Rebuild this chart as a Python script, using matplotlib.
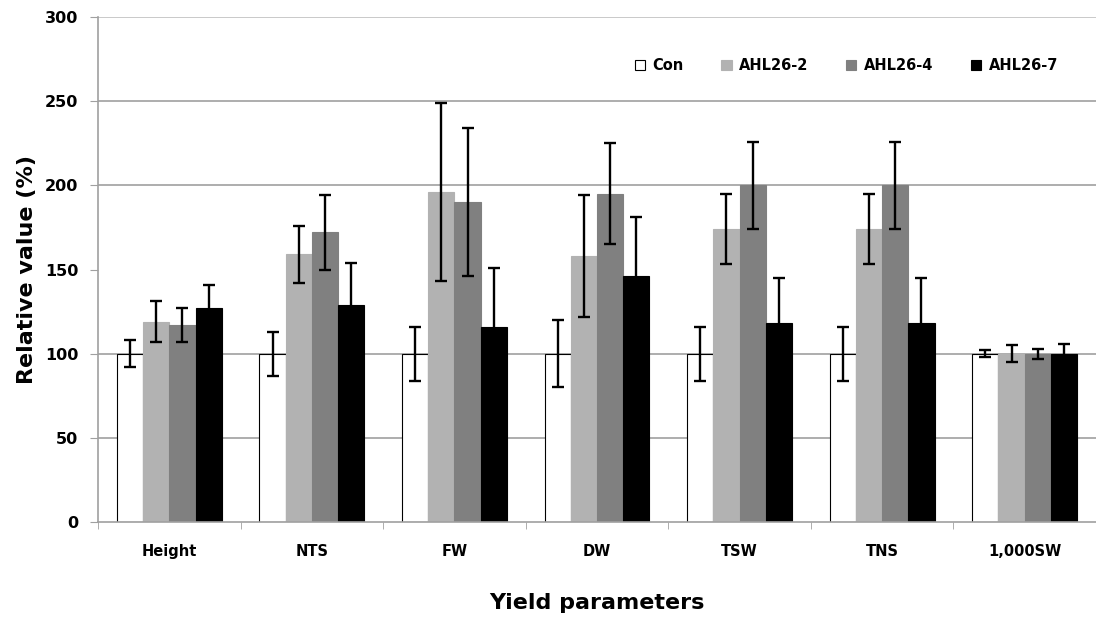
import matplotlib.pyplot as plt
import numpy as np

categories = ["Height", "NTS", "FW", "DW", "TSW", "TNS", "1,000SW"]
series = ["Con", "AHL26-2", "AHL26-4", "AHL26-7"]

con = [100, 100, 100, 100, 100, 100, 100]
con_err = [8, 13, 16, 20, 16, 16, 2]
ahl2 = [119, 159, 196, 158, 174, 174, 100]
ahl2_err = [12, 17, 53, 36, 21, 21, 5]
ahl4 = [117, 172, 190, 195, 200, 200, 100]
ahl4_err = [10, 22, 44, 30, 26, 26, 3]
ahl7 = [127, 129, 116, 146, 118, 118, 100]
ahl7_err = [14, 25, 35, 35, 27, 27, 6]

values = [con, ahl2, ahl4, ahl7]
errors = [con_err, ahl2_err, ahl4_err, ahl7_err]
colors = ["white", "#b2b2b2", "#808080", "black"]

fig = plt.figure(figsize=(10.96, 6.23), dpi=100)
ax = fig.add_axes([98 / 1096, 101 / 623, 998 / 1096, 505 / 623])

x = np.arange(len(categories))
w = 0.184
for i, (vals, errs, c) in enumerate(zip(values, errors, colors)):
    pos = x + (i - 1.5) * w
    ax.bar(pos, vals, width=w, color=c,
           edgecolor="black" if i == 0 else c, linewidth=0.8,
           label=series[i], zorder=2)
    ax.errorbar(pos, vals, yerr=errs, fmt="none", ecolor="black",
                elinewidth=1.7, capsize=4, capthick=1.7, zorder=3)

ax.set_xlim(-0.5, len(categories) - 0.5)
ax.set_ylim(0, 300)
ax.set_yticks([0, 50, 100, 150, 200, 250, 300])
for g in [50, 100, 200, 250]:
    ax.axhline(g, color="#a0a0a0", linewidth=1.2, zorder=1)
ax.axhline(300, color="#c0c0c0", linewidth=1.2, zorder=1)

ax.set_xticks(x)
ax.set_xticklabels(categories, fontsize=10.5, fontweight="bold")
ax.set_xticks(np.arange(len(categories) + 1) - 0.5, minor=True)
ax.tick_params(axis="x", which="major", length=0, pad=16)
ax.tick_params(axis="x", which="minor", length=5, color="#a0a0a0")
ax.tick_params(axis="y", length=6, color="#a0a0a0", labelsize=11.5, pad=8)
for lab in ax.get_yticklabels():
    lab.set_fontweight("bold")

for s in ["top", "right"]:
    ax.spines[s].set_visible(False)
for s in ["left", "bottom"]:
    ax.spines[s].set_color("#a0a0a0")
    ax.spines[s].set_linewidth(1.2)

ax.set_ylabel("Relative value (%)", fontsize=16, fontweight="bold", labelpad=6)
ax.set_xlabel("Yield parameters", fontsize=16, fontweight="bold", labelpad=24)

ax.legend(loc="upper right", bbox_to_anchor=(0.975, 0.945), ncol=4, frameon=False,
          prop={"weight": "bold", "size": 10.5}, handlelength=0.7,
          handleheight=0.7, columnspacing=2.6, handletextpad=0.5)

fig.savefig("out.png", dpi=100)
